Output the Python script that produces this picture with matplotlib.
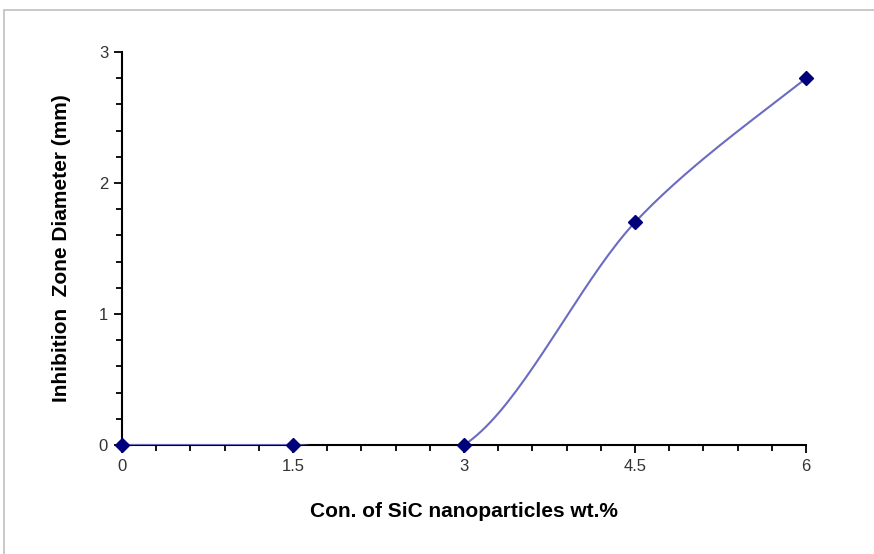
import numpy as np
import matplotlib.pyplot as plt
from matplotlib.patches import Rectangle
from matplotlib.ticker import MultipleLocator

plt.rcParams['font.family'] = ['Liberation Sans', 'DejaVu Sans']

conc = [0, 1.5, 3, 4.5, 6]
diameter = [0, 0, 0, 1.7, 2.8]
x_ticks = [0, 1.5, 3, 4.5, 6]
x_labels = ['0', '1.5', '3', '4.5', '6']
y_ticks = [0, 1, 2, 3]


def smooth_line(xs, ys, n=40):
    # Excel-like smoothed line: cubic Bezier through points (Catmull-Rom control points)
    p = np.column_stack([xs, ys]).astype(float)
    pts = np.vstack([p[0], p, p[-1]])
    out = []
    t = np.linspace(0, 1, n)[:, None]
    for i in range(1, len(pts) - 2):
        p0, p1, p2, p3 = pts[i - 1], pts[i], pts[i + 1], pts[i + 2]
        c1 = p1 + (p2 - p0) / 6
        c2 = p2 - (p3 - p1) / 6
        seg = ((1 - t) ** 3) * p1 + 3 * ((1 - t) ** 2) * t * c1 + 3 * (1 - t) * t ** 2 * c2 + t ** 3 * p2
        out.append(seg)
    seg = np.vstack(out)
    return seg[:, 0], seg[:, 1]


fig = plt.figure(figsize=(8.74, 5.54), dpi=100)
fig.patches.append(Rectangle((4 / 874, -0.1), 1.2, (554 - 10) / 554 + 0.1, transform=fig.transFigure,
                             fill=False, edgecolor='#c0c0c0', linewidth=1.2))
ax = fig.add_axes([122 / 874, 109 / 554, 684 / 874, 393 / 554])

sx, sy = smooth_line(conc, diameter)
# the part of the curve dipping below zero is hidden by the axis, as in the original
ax.set_xlim(0, 6)
ax.set_ylim(0, 3)
ax.plot(sx, sy, color='#6b6bc2', linewidth=1.5, zorder=3)
ax.plot(conc, diameter, linestyle='none', marker='D', markersize=7, color='#00007a', clip_on=False, zorder=4)

ax.set_xticks(x_ticks)
ax.set_xticklabels(x_labels)
ax.set_yticks(y_ticks)
ax.xaxis.set_minor_locator(MultipleLocator(0.3))
ax.yaxis.set_minor_locator(MultipleLocator(0.2))
ax.tick_params(which='major', length=6, width=1.3, labelsize=12, colors='black', labelcolor='#333333', pad=4)
ax.tick_params(which='minor', length=4, width=1.3)

for s in ['top', 'right']:
    ax.spines[s].set_visible(False)
for s in ['left', 'bottom']:
    ax.spines[s].set_linewidth(1.5)

ax.set_xlabel('Con. of SiC nanoparticles wt.%', fontsize=15, fontweight='bold', labelpad=20)
ax.set_ylabel('Inhibition  Zone Diameter (mm)', fontsize=15, fontweight='bold', labelpad=20)

fig.savefig('out.png', dpi=100)
